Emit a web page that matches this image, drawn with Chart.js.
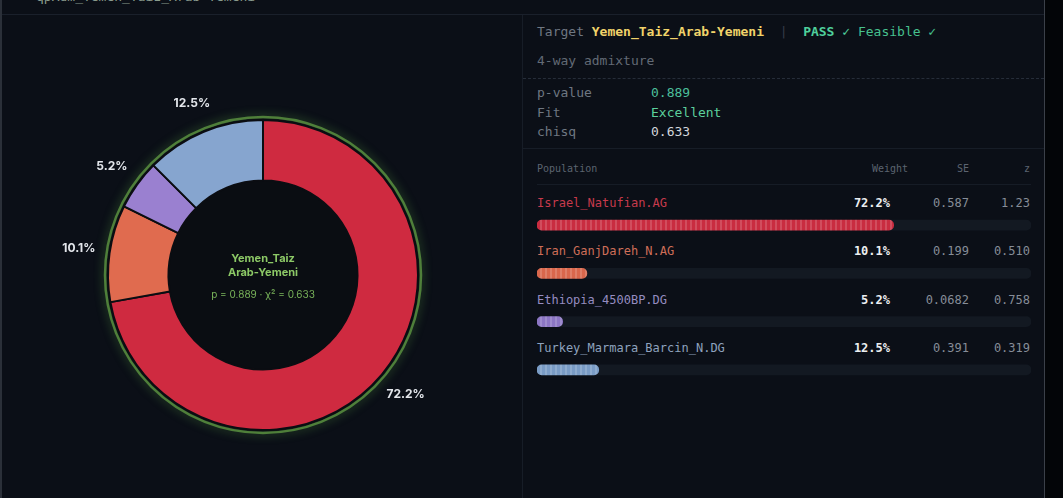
<!DOCTYPE html>
<html>
<head>
<meta charset="utf-8">
<script src="https://cdn.jsdelivr.net/npm/chart.js@4.4.1/dist/chart.umd.min.js"></script>
<style>
  html, body { margin: 0; padding: 0; }
  body { width: 1063px; height: 498px; background: #0b0f17; position: relative; overflow: hidden;
         font-family: "DejaVu Sans Mono", monospace; }
  .abs { position: absolute; white-space: nowrap; }
  #edgeL { left: 0; top: 0; width: 2px; height: 498px; background: #2b3039; }
  #edgeR { left: 1044px; top: 0; width: 19px; height: 498px; background: #030508; border-left: 1px solid #3b4049; }
  #hdr { left: 36px; top: -11px; font-size: 13px; color: #8a9c8e; }
  #hdrLine { left: 2px; top: 14px; width: 1042px; height: 1px; background: #1a202b; }
  #divider { left: 522px; top: 15px; width: 1px; height: 483px; background: #171d27; }
  #donutWrap { left: 43px; top: 55px; width: 440px; height: 440px; }
  .ctr { left: 163px; width: 200px; text-align: center; font-family: Inter, "Noto Sans", sans-serif; }
  .mono13 { font-size: 13px; line-height: 16px; }
  .lbl { color: #6f7782; }
  .hline { left: 523px; width: 521px; height: 0; }
  #barWrap { left: 537px; top: 201px; width: 494px; height: 193px; }
  .row { font-size: 12px; line-height: 14px; }
  .num { text-align: right; color: #868d98; }
</style>
</head>
<body>
<div class="abs" id="edgeL"></div>
<div class="abs" id="edgeR"></div>
<div class="abs" id="hdr">qpAdm_Yemen_Taiz_Arab-Yemeni</div>
<div class="abs" id="hdrLine"></div>
<div class="abs" id="divider"></div>

<div class="abs" id="donutWrap"><canvas id="donut"></canvas></div>
<div class="abs ctr" style="top:251px;font-size:11px;font-weight:700;color:#8cc866;line-height:14px;">Yemen_Taiz<br>Arab-Yemeni</div>
<div class="abs ctr" style="top:288px;font-size:10px;color:#79b45a;">p = 0.889 · χ² = 0.633</div>

<!-- right panel -->
<div class="abs mono13" style="left:537px;top:24px;">
  <span class="lbl">Target</span> <span style="color:#f1d36a;font-weight:700;">Yemen_Taiz_Arab-Yemeni</span>
  <span style="color:#353c48;">&nbsp;|&nbsp;</span> <span style="color:#4fd09c;font-weight:700;">PASS ✓</span>
  <span style="color:#46c08e;">Feasible ✓</span>
</div>
<div class="abs mono13 lbl" style="left:537px;top:53px;color:#626a75;">4-way admixture</div>
<div class="abs hline" style="top:78px;border-top:1px dashed #262d39;"></div>
<div class="abs mono13 lbl" style="left:537px;top:83px;line-height:19.5px;">p-value<br>Fit<br>chisq</div>
<div class="abs mono13" style="left:651px;top:83px;line-height:19.5px;">
  <span style="color:#4cbf9b;">0.889</span><br><span style="color:#5ccf9c;">Excellent</span><br><span style="color:#d2d6dc;">0.633</span>
</div>
<div class="abs hline" style="top:148px;border-top:1px solid #171d27;"></div>
<div class="abs" style="left:537px;top:163px;font-size:10px;color:#5c6470;">Population</div>
<div class="abs" style="left:850px;width:58px;top:163px;font-size:10px;color:#5c6470;text-align:right;">Weight</div>
<div class="abs" style="left:930px;width:39px;top:163px;font-size:10px;color:#5c6470;text-align:right;">SE</div>
<div class="abs" style="left:990px;width:40px;top:163px;font-size:10px;color:#5c6470;text-align:right;">z</div>
<div class="abs" style="left:537px;top:184px;width:494px;height:1px;background:#161c26;"></div>
<div id="rows"></div>

<div class="abs" id="barWrap"><canvas id="bars"></canvas></div>

<script>
// ---- data ----
const populations = ['Israel_Natufian.AG', 'Iran_GanjDareh_N.AG', 'Ethiopia_4500BP.DG', 'Turkey_Marmara_Barcin_N.DG'];
const weights = [72.2, 10.1, 5.2, 12.5];       // percent
const stdErrors = [0.587, 0.199, 0.0682, 0.391];
const zScores = [1.23, 0.510, 0.758, 0.319];
const sliceColors = ['#cf2a40', '#e06b4f', '#9a80d0', '#86a5cf'];
const barColors = ['#c92c40', '#d9674c', '#8c76c4', '#7a9cc6'];
const nameColors = ['#c73a4c', '#cf6e58', '#958cc0', '#8ea2be'];

// table text rows (html)
const rowsEl = document.getElementById('rows');
populations.forEach(function (name, i) {
  const top = 196 + i * 48.3;
  rowsEl.insertAdjacentHTML('beforeend',
    '<div class="abs row" style="left:537px;top:' + top + 'px;color:' + nameColors[i] + ';">' + name + '</div>' +
    '<div class="abs row" style="left:830px;width:60px;top:' + top + 'px;text-align:right;color:#eceef1;font-weight:700;">' + weights[i].toFixed(1) + '%</div>' +
    '<div class="abs row num" style="left:909px;width:60px;top:' + top + 'px;">' + stdErrors[i].toPrecision(3) + '</div>' +
    '<div class="abs row num" style="left:970px;width:60px;top:' + top + 'px;">' + zScores[i].toPrecision(3) + '</div>');
});

// striped fill for the weight bars
function stripes(color) {
  const c = document.createElement('canvas');
  c.width = 5; c.height = 12;
  const g = c.getContext('2d');
  g.fillStyle = color;
  g.fillRect(0, 0, 5, 12);
  g.fillStyle = 'rgba(255,255,255,0.16)';
  g.fillRect(3, 0, 2, 12);
  return g.createPattern(c, 'repeat');
}

// ring glow, hole fill and outside % labels
const donutDecor = {
  id: 'donutDecor',
  beforeDatasetsDraw(chart) {
    const arc = chart.getDatasetMeta(0).data[0];
    if (!arc) return;
    const ctx = chart.ctx;
    ctx.save();
    ctx.beginPath();
    ctx.arc(arc.x, arc.y, arc.outerRadius + 3, 0, Math.PI * 2);
    ctx.strokeStyle = '#4f7f3a';
    ctx.lineWidth = 2.5;
    ctx.shadowColor = 'rgba(110,200,80,0.55)';
    ctx.shadowBlur = 10;
    ctx.stroke();
    ctx.shadowBlur = 0;
    ctx.beginPath();
    ctx.arc(arc.x, arc.y, arc.outerRadius + 1, 0, Math.PI * 2);
    ctx.fillStyle = '#0a0d12';
    ctx.fill();
    ctx.restore();
  },
  afterDatasetsDraw(chart) {
    const ctx = chart.ctx;
    const data = chart.data.datasets[0].data;
    ctx.save();
    ctx.font = 'bold 12px Inter, "Noto Sans", sans-serif';
    ctx.fillStyle = '#e3e6eb';
    ctx.textAlign = 'center';
    ctx.textBaseline = 'middle';
    chart.getDatasetMeta(0).data.forEach(function (a, i) {
      const mid = (a.startAngle + a.endAngle) / 2;
      const r = a.outerRadius + 31;
      ctx.fillText(data[i].toFixed(1) + '%', a.x + Math.cos(mid) * r, a.y + Math.sin(mid) * r);
    });
    ctx.restore();
  }
};

new Chart(document.getElementById('donut'), {
  type: 'doughnut',
  data: {
    labels: populations,
    datasets: [{
      data: weights,
      backgroundColor: sliceColors,
      borderColor: '#0b0d12',
      borderWidth: 2
    }]
  },
  options: {
    responsive: true,
    maintainAspectRatio: false,
    animation: false,
    cutout: '61%',
    layout: { padding: 64 },
    plugins: { legend: { display: false }, tooltip: { enabled: false } }
  },
  plugins: [donutDecor]
});

new Chart(document.getElementById('bars'), {
  type: 'bar',
  data: {
    labels: populations,
    datasets: [
      {
        data: weights,
        backgroundColor: barColors.map(stripes),
        borderRadius: 5,
        borderSkipped: false,
        barThickness: 10,
        grouped: false
      },
      {
        data: weights.map(function () { return 100; }),
        backgroundColor: '#131922',
        borderRadius: 5,
        borderSkipped: false,
        barThickness: 10,
        grouped: false
      }
    ]
  },
  options: {
    indexAxis: 'y',
    responsive: true,
    maintainAspectRatio: false,
    animation: false,
    layout: { padding: 0 },
    scales: {
      x: { display: false, min: 0, max: 100 },
      y: { display: false }
    },
    plugins: { legend: { display: false }, tooltip: { enabled: false } }
  }
});
</script>
</body>
</html>
